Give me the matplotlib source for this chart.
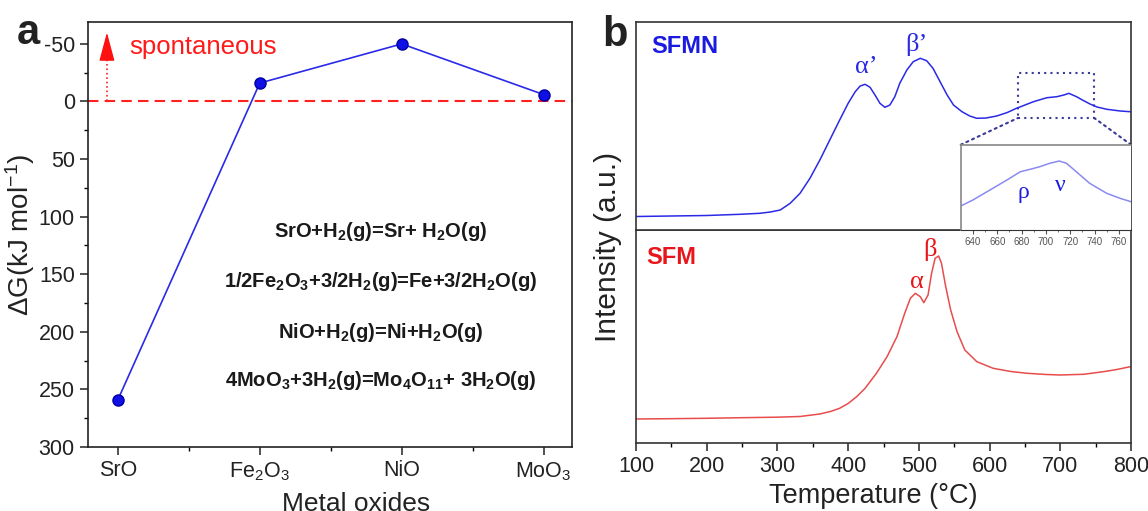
import numpy as np
import matplotlib.pyplot as plt
from matplotlib.patches import Rectangle, ConnectionPatch
from matplotlib.ticker import MultipleLocator

plt.rcParams['font.family'] = ['Liberation Sans', 'DejaVu Sans']
plt.rcParams['mathtext.default'] = 'regular'
plt.rcParams['axes.unicode_minus'] = False

# ---- panel a data ----
oxides = ['SrO', 'Fe$_2$O$_3$', 'NiO', 'MoO$_3$']
delta_g = [259, -16, -50, -6]
reactions = ['SrO+H$_2$(g)=Sr+ H$_2$O(g)',
             '1/2Fe$_2$O$_3$+3/2H$_2$(g)=Fe+3/2H$_2$O(g)',
             'NiO+H$_2$(g)=Ni+H$_2$O(g)',
             '4MoO$_3$+3H$_2$(g)=Mo$_4$O$_{11}$+ 3H$_2$O(g)']
reaction_y = [113, 156, 201, 242]

# ---- panel b data (a.u.) ----
sfmn_t = [100, 150, 200, 247, 275, 290, 304, 318, 332, 346, 360, 374, 388, 400, 410,
          417, 424, 431, 438, 445, 452, 459, 466, 473, 483, 492, 502, 511, 520, 530,
          540, 549, 561, 572, 582, 595, 610, 625, 638, 650, 662, 681, 695, 705, 712,
          723, 730, 742, 752, 766, 785, 799]
sfmn_i = [13.5, 14, 14.5, 15.7, 16.7, 18, 20, 26.7, 36.7, 51.7, 70, 90, 110, 126.7, 138.3,
          144, 145.7, 142.7, 135, 126.7, 122.7, 125, 133.3, 146.7, 160, 168.3, 171.7, 169.3, 161.7, 148.3,
          135, 125, 118.3, 114, 111.7, 112, 114, 117.5, 121.7, 125, 128.3, 132.3, 133.3, 135, 136.7,
          133.3, 130.5, 126, 123, 120.7, 119, 118.3]

sfm_t = [100, 150, 200, 250, 300, 332, 360, 375, 388, 400, 412, 424, 431, 440, 455,
         469, 480, 488, 495, 502, 507, 513, 518, 523, 528, 532, 538, 545, 554, 565,
         582, 605, 630, 653, 680, 700, 733, 761, 780, 799]
sfm_i = [24, 24.3, 24.7, 25.3, 25.8, 26.5, 29, 31.5, 34.7, 39.5, 46.3, 54.7, 61.3, 69.7, 86.3,
         106.3, 129.7, 144.7, 149.7, 146.3, 140.3, 148, 169.7, 184.7, 187, 179.7, 156.3, 133, 111.3, 93,
         81.3, 74.7, 71.5, 69.7, 68.5, 68, 68.7, 71.3, 73.5, 76.3]

inset_t = [630, 640, 654, 668, 679, 687, 695, 703, 711, 717, 725, 736, 750, 761, 770]
inset_i = [24, 30, 40, 50, 58.3, 60.7, 63.3, 66.7, 69, 66.7, 58.3, 46.7, 36.7, 31.7, 28.3]

fig = plt.figure(figsize=(11.48, 5.11), dpi=100)

# ================= panel a =================
ax = fig.add_axes([0.0767, 0.1252, 0.4216, 0.8317])
x = np.arange(len(oxides))
ax.plot(x, delta_g, color='#2a2ae8', lw=1.2, marker='o', ms=8,
        markerfacecolor='#1010e6', markeredgecolor='#0000a0', zorder=3)
ax.axhline(0, color='#ff2020', ls=(0, (5, 3)), lw=1.5)

ax.set_xlim(-0.21, 3.2)
ax.set_ylim(300, -69)
ax.set_xticks(x)
ax.set_xticklabels(oxides)
ax.xaxis.set_minor_locator(MultipleLocator(0.5))
ax.yaxis.set_major_locator(MultipleLocator(50))
ax.yaxis.set_minor_locator(MultipleLocator(25))
ax.tick_params(which='major', direction='out', length=6, width=1.1, labelsize=15.5, colors='#222222')
ax.tick_params(which='minor', direction='out', length=3, width=1.0)
ax.tick_params(axis='x', which='minor', labelbottom=False)
for s in ax.spines.values():
    s.set_linewidth(1.2)
    s.set_color('#222222')

ax.set_ylabel(r'$\Delta$G(kJ mol$^{-1}$)', fontsize=20, color='#222222')
ax.yaxis.set_label_coords(-0.105, 0.5)
ax.set_xlabel('Metal oxides', fontsize=19, color='#222222')
ax.xaxis.set_label_coords(0.554, -0.105)

# spontaneous arrow
ax.plot([-0.077, -0.077], [0, -38], color='#ff2020', ls=':', lw=1.2)
ax.annotate('', xy=(-0.077, -60), xytext=(-0.077, -38),
            arrowprops=dict(arrowstyle='-|>,head_length=1.2,head_width=0.32',
                            color='#ff1010', lw=1, shrinkA=0, shrinkB=0, mutation_scale=15))
ax.text(0.078, -47, 'spontaneous', color='#ff1a1a', fontsize=18.5, va='center', ha='left')

for txt, yy in zip(reactions, reaction_y):
    ax.text(1.853, yy, txt, fontsize=14.5, fontweight='bold', ha='center', va='center',
            color='#1a1a1a')

fig.text(0.0145, 0.914, 'a', fontsize=30, fontweight='bold', color='#222222', va='baseline')

# ================= panel b =================
blue = '#2a2ae6'
red = '#e84c4c'

bot = fig.add_axes([0.554, 0.1331, 0.4312, 0.4168])
top = fig.add_axes([0.554, 0.5499, 0.4312, 0.407])

top.plot(sfmn_t, sfmn_i, color=blue, lw=1.1)
top.set_xlim(100, 800)
top.set_ylim(0, 208)
top.set_xticks([])
top.set_yticks([])

bot.plot(sfm_t, sfm_i, color=red, lw=1.1)
bot.set_xlim(100, 800)
bot.set_ylim(0, 213)
bot.set_yticks([])
bot.xaxis.set_major_locator(MultipleLocator(100))
bot.xaxis.set_minor_locator(MultipleLocator(50))
bot.tick_params(which='major', direction='out', length=6, width=1.1, labelsize=15.5, colors='#222222')
bot.tick_params(which='minor', direction='out', length=3, width=1.0)
bot.set_xlabel('Temperature (°C)', fontsize=19.5, color='#222222')
bot.xaxis.set_label_coords(0.479, -0.19)

for a in (top, bot):
    for s in a.spines.values():
        s.set_linewidth(1.2)
        s.set_color('#333333')

top.text(0.03, 0.88, 'SFMN', transform=top.transAxes, color='#1a1ae0', fontsize=17,
         fontweight='bold', va='center', ha='left')
bot.text(0.02, 0.87, 'SFM', transform=bot.transAxes, color='#e8161b', fontsize=17,
         fontweight='bold', va='center', ha='left')

greek = ['Liberation Serif', 'DejaVu Serif']
top.text(425, 163, 'α’', color=blue, fontsize=19, family=greek, ha='center', va='center')
top.text(496, 186, 'β’', color=blue, fontsize=19, family=greek, ha='center', va='center')
bot.text(497, 161, 'α', color='#e8161b', fontsize=19, family=greek, ha='center', va='center')
bot.text(516, 193, 'β', color='#e8161b', fontsize=19, family=greek, ha='center', va='center')

# zoom box + inset
dot_col = '#3a3a9a'
top.add_patch(Rectangle((640, 112), 108, 45, fill=False, ec=dot_col, ls=(0, (1, 2)), lw=1.5))

ins = top.inset_axes([0.656, 0.0, 0.344, 0.41])
ins.plot(inset_t, inset_i, color='#8a8af0', lw=1.1)
ins.set_xlim(630, 770)
ins.set_ylim(0, 85.3)
ins.set_yticks([])
ins.set_xticks(np.arange(640, 761, 20))
ins.set_xticks(np.arange(640, 771, 10), minor=True)
ins.tick_params(which='major', direction='out', length=3, width=0.8, labelsize=7,
                colors='#555555', pad=2)
ins.tick_params(which='minor', direction='out', length=1.5, width=0.6, colors='#555555')
for side in ('left', 'top'):
    ins.spines[side].set_color('#888888')
    ins.spines[side].set_linewidth(1.2)
ins.spines['right'].set_visible(False)
ins.spines['bottom'].set_color('#333333')
ins.text(681.5, 38, 'ρ', color='#1a1ae0', fontsize=17, family=greek, ha='center', va='center')
ins.text(712, 45, 'ν', color='#1a1ae0', fontsize=17, family=greek, ha='center', va='center')

for (xa, xb) in (((0, 1), (640, 112)), ((1, 1), (748, 112))):
    con = ConnectionPatch(xyA=xa, coordsA=ins.transAxes, xyB=xb, coordsB=top.transData,
                          color=dot_col, ls=(0, (1, 2)), lw=1.5)
    top.add_artist(con)

fig.text(0.530, 0.517, 'Intensity (a.u.)', rotation=90, fontsize=21.5, color='#222222',
         ha='center', va='center')
fig.text(0.525, 0.91, 'b', fontsize=30, fontweight='bold', color='#222222', va='baseline')

fig.savefig('out.png', dpi=100)
